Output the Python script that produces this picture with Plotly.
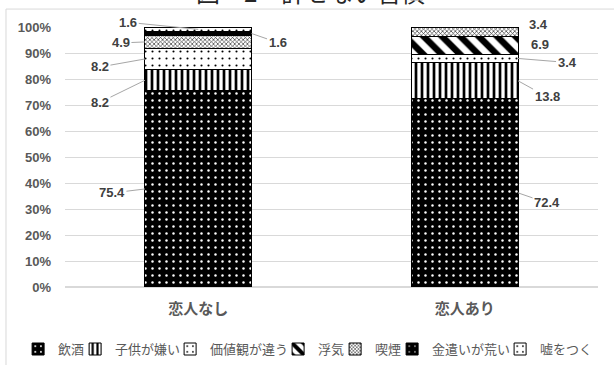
import plotly.graph_objects as go

# ---------------- data ----------------
categories = ["恋人なし", "恋人あり"]
series_names = ["飲酒", "子供が嫌い", "価値観が違う", "浮気", "喫煙", "金遣いが荒い", "嘘をつく"]
drinking = [75.4, 72.4]
dislike_children = [8.2, 13.8]
values_differ = [8.2, 3.4]
cheating = [0, 6.9]
smoking = [4.9, 3.4]
wasteful = [1.6, 0]
lying = [1.6, 0]
series_values = [drinking, dislike_children, values_differ, cheating, smoking, wasteful, lying]
y_ticks = [0, 10, 20, 30, 40, 50, 60, 70, 80, 90, 100]
y_tick_labels = ["0%", "10%", "20%", "30%", "40%", "50%", "60%", "70%", "80%", "90%", "100%"]
title_text = "図　2　許せない習慣"

# ---------------- style ----------------
BAR_W = 0.4
patterns = [
    dict(shape=".", bgcolor="black", fgcolor="white", size=7, solidity=0.1, fillmode="replace"),
    dict(shape="|", bgcolor="white", fgcolor="black", size=6, solidity=0.45, fillmode="replace"),
    dict(shape=".", bgcolor="white", fgcolor="black", size=7, solidity=0.07, fillmode="replace"),
    dict(shape="\\", bgcolor="white", fgcolor="black", size=13, solidity=0.5, fillmode="replace"),
    dict(shape="x", bgcolor="white", fgcolor="#333333", size=3, solidity=0.4, fillmode="replace"),
    dict(shape=".", bgcolor="black", fgcolor="white", size=7, solidity=0.06, fillmode="replace"),
    dict(shape=".", bgcolor="white", fgcolor="black", size=7, solidity=0.07, fillmode="replace"),
]
legend_w = [12, 50, 63, 12, 12, 63, 56]

# label placement: (series index, category index) -> (anchor side, dx, dy, leader line)
label_style = {
    (0, 0): (-1, -33, 4, True),
    (1, 0): (-1, -45, 22, True),
    (2, 0): (-1, -45, 8, True),
    (4, 0): (-1, -24, 1, True),
    (6, 0): (0, -70, -7, True),
    (5, 0): (1, 26, 9, True),
    (0, 1): (1, 29, 10, True),
    (1, 1): (1, 29, 16, True),
    (2, 1): (1, 49, 4, True),
    (3, 1): (1, 22, -1, False),
    (4, 1): (1, 20, -7, False),
}

NUM_FONT = "Liberation Sans, Arial, Noto Sans CJK JP, sans-serif"
CJK_FONT = "Noto Sans CJK JP, sans-serif"

fig = go.Figure()
for name, vals, pat, lw in zip(series_names, series_values, patterns, legend_w):
    fig.add_trace(go.Bar(
        name=name, x=categories, y=vals, width=BAR_W,
        marker=dict(color=pat["bgcolor"], pattern=pat, line=dict(color="black", width=1)),
        legendwidth=lw, hoverinfo="skip",
    ))

# data labels
annotations = []
for ci in range(len(categories)):
    cum = 0
    for si, vals in enumerate(series_values):
        v = vals[ci]
        mid = cum + v / 2
        cum += v
        key = (si, ci)
        if key not in label_style:
            continue
        side, dx, dy, line = label_style[key]
        xpos = ci + side * BAR_W / 2
        common = dict(x=xpos, y=mid, xref="x", yref="y", text=f"{v:.1f}",
                      font=dict(family=NUM_FONT, size=13, color="#404040", weight="bold"))
        if line:
            annotations.append(dict(**common, showarrow=True, arrowhead=0, arrowwidth=1,
                                    arrowcolor="#a6a6a6", ax=dx, ay=dy, standoff=0))
        else:
            annotations.append(dict(**common, showarrow=False, xshift=dx, yshift=-dy))

annotations.append(dict(text=title_text, x=0.4615, y=1.062, xref="paper", yref="paper",
                        xanchor="center", yanchor="bottom", showarrow=False,
                        font=dict(family=CJK_FONT, size=24, color="#262626")))

fig.update_layout(
    width=614, height=365,
    margin=dict(l=65, r=16, t=27, b=78, autoexpand=False),
    paper_bgcolor="white", plot_bgcolor="white",
    barmode="stack", bargap=0.6,
    annotations=annotations,
    showlegend=True,
    legend=dict(orientation="h", x=-0.088, xanchor="left", y=-0.181, yanchor="top",
                traceorder="normal", font=dict(family=CJK_FONT, size=13, color="#595959"),
                bgcolor="rgba(0,0,0,0)", itemclick=False, itemdoubleclick=False),
    shapes=[dict(type="rect", xref="paper", yref="paper",
                 x0=-0.1107, x1=1.2, y0=-0.5, y1=1.069,
                 line=dict(color="#d9d9d9", width=1), fillcolor="rgba(0,0,0,0)", layer="below")],
    xaxis=dict(type="category", showgrid=False, showline=False, ticks="", automargin=False,
               tickfont=dict(family=CJK_FONT, size=15, color="#595959", weight="bold"),
               ticklabelstandoff=11),
    yaxis=dict(range=[0, 100], tickmode="array", tickvals=y_ticks, ticktext=y_tick_labels,
               showgrid=True, gridcolor="#d9d9d9", gridwidth=1, zeroline=True, automargin=False,
               zerolinecolor="#d9d9d9", showline=False, ticks="",
               tickfont=dict(family=NUM_FONT, size=13, color="#595959", weight="bold"),
               ticklabelstandoff=13),
)

fig.write_html("out.html")
